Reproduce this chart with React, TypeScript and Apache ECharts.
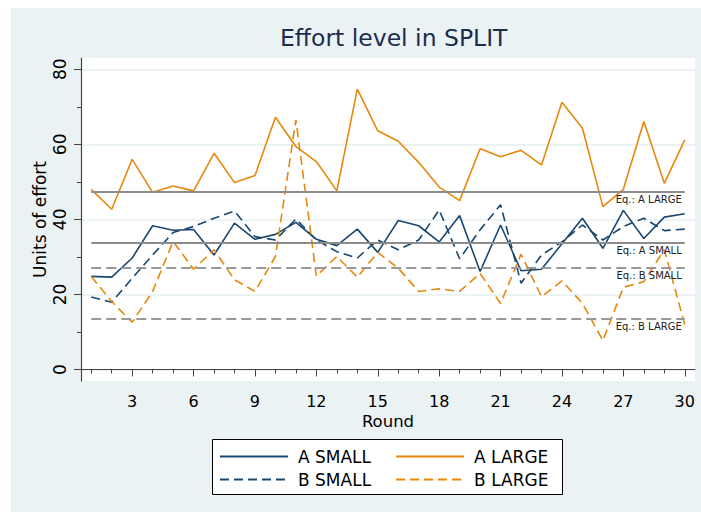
import React, { useEffect, useRef } from 'react';
import * as echarts from 'echarts';

const ROUNDS = ['1', '2', '3', '4', '5', '6', '7', '8', '9', '10', '11', '12', '13', '14', '15', '16', '17', '18', '19', '20', '21', '22', '23', '24', '25', '26', '27', '28', '29', '30'];
const A_SMALL = [24.8, 24.6, 29.7, 38.3, 37.1, 37.3, 30.5, 39.0, 34.7, 36.0, 39.2, 34.7, 33.0, 37.4, 31.2, 39.7, 38.3, 34.0, 41.0, 26.1, 38.5, 26.3, 26.7, 33.5, 40.3, 32.3, 42.4, 34.9, 40.6, 41.5];
const A_LARGE = [48.0, 42.7, 56.0, 47.2, 48.9, 47.6, 57.6, 49.8, 51.7, 67.2, 59.4, 55.4, 47.6, 74.7, 63.6, 60.8, 55.2, 48.6, 45.0, 58.8, 56.7, 58.4, 54.5, 71.2, 64.3, 43.4, 48.0, 66.1, 49.6, 61.2];
const B_SMALL = [19.3, 17.9, 24.3, 30.5, 36.5, 38.1, 40.3, 42.2, 35.4, 34.5, 40.1, 34.5, 31.4, 29.7, 34.5, 31.9, 34.5, 42.5, 29.5, 37.2, 43.9, 23.0, 30.5, 34.0, 38.5, 34.5, 38.1, 40.3, 37.0, 37.4];
const B_LARGE = [24.8, 18.1, 12.6, 20.8, 34.1, 26.7, 31.9, 23.9, 20.8, 30.1, 66.5, 24.9, 30.1, 24.6, 31.2, 27.0, 20.8, 21.5, 20.8, 25.6, 17.6, 30.7, 19.4, 23.6, 17.6, 7.7, 21.9, 23.4, 31.9, 11.9];
const EQ_NAMES = ['Eq.: A LARGE', 'Eq.: A SMALL', 'Eq.: B SMALL', 'Eq.: B LARGE'];
const EQ_VALUES = [47.4, 33.9, 27.1, 13.5];
const EQ_DASHED = [false, false, true, true];
const Y_MAJOR = [0, 20, 40, 60, 80];
const Y_MINOR = [10, 30, 50, 70];

const BLUE = '#1a476f';
const ORANGE = '#e8870e';
const FONT = 'DejaVu Sans';
const AXIS_COLOR = '#444';

export default function App() {
  const ref = useRef<HTMLDivElement>(null);
  useEffect(() => {
    if (!ref.current) return;
    const chart = echarts.init(ref.current, null, { renderer: 'svg' });
    const yMin = -3.07;
    const yMax = 83.0;
    const majorX = (i: number) => (i + 1) % 3 === 0;
    const lineSeries = (name: string, data: number[], color: string, dashed: boolean) => ({
      name,
      type: 'line',
      data,
      xAxisIndex: 0,
      yAxisIndex: 0,
      symbol: 'none',
      showSymbol: false,
      z: 3,
      lineStyle: { color, width: 1.6, type: dashed ? [9, 5] : 'solid' },
      itemStyle: { color },
    });
    const legendBase = {
      left: 219,
      padding: 0,
      itemWidth: 68,
      itemHeight: 14,
      itemGap: 24,
      z: 5,
      itemStyle: { opacity: 0 },
      textStyle: { fontFamily: FONT, fontSize: 17, color: '#000', padding: [0, 0, 0, 5] },
    };
    chart.setOption({
      animation: false,
      title: {
        text: 'Effort level in SPLIT',
        left: 280,
        top: 26,
        padding: 0,
        textStyle: { fontFamily: FONT, fontSize: 23.5, fontWeight: 'normal', color: '#1c2c4e' },
      },
      grid: {
        left: 81,
        right: 6,
        top: 58,
        bottom: 131,
        show: true,
        backgroundColor: '#ffffff',
        borderWidth: 0,
      },
      legend: [
        { ...legendBase, data: ['A SMALL', 'A LARGE'], top: 448 },
        { ...legendBase, data: ['B SMALL', 'B LARGE'], top: 471 },
      ],
      graphic: [
        {
          type: 'rect',
          z: 1,
          shape: { x: 212.5, y: 439.5, width: 350, height: 55 },
          style: { fill: '#ffffff', stroke: '#000000', lineWidth: 1 },
        },
      ],
      xAxis: [
        {
          type: 'category',
          data: ROUNDS,
          boundaryGap: true,
          position: 'bottom',
          axisLine: { show: true, lineStyle: { color: AXIS_COLOR, width: 1.2 } },
          axisTick: { show: true, interval: 0, alignWithLabel: true, length: 4, lineStyle: { color: AXIS_COLOR } },
          axisLabel: { show: false },
          splitLine: { show: false },
        },
        {
          type: 'category',
          data: ROUNDS,
          boundaryGap: true,
          position: 'bottom',
          name: 'Round',
          nameLocation: 'middle',
          nameGap: 32,
          nameMoveOverlap: false,
          nameTextStyle: { fontFamily: FONT, fontSize: 16.5, color: '#000' },
          axisLine: { show: false },
          axisTick: { show: true, interval: majorX, alignWithLabel: true, length: 7, lineStyle: { color: AXIS_COLOR } },
          axisLabel: { show: true, interval: majorX, margin: 12, fontFamily: FONT, fontSize: 16, color: '#000' },
          splitLine: { show: false },
        },
      ],
      yAxis: [
        {
          type: 'value',
          min: yMin,
          max: yMax,
          position: 'left',
          name: 'Units of effort',
          nameLocation: 'middle',
          nameGap: 33,
          nameMoveOverlap: false,
          nameTextStyle: { fontFamily: FONT, fontSize: 17, color: '#000' },
          axisLine: { show: true, lineStyle: { color: AXIS_COLOR, width: 1.2 } },
          axisTick: { show: true, customValues: Y_MAJOR, length: 7, lineStyle: { color: AXIS_COLOR } },
          axisLabel: { show: true, customValues: Y_MAJOR, rotate: 90, margin: 13, fontFamily: FONT, fontSize: 17, color: '#000' },
          splitLine: { show: true, lineStyle: { color: '#e6eff1', width: 1.5 } },
        },
        {
          type: 'value',
          min: yMin,
          max: yMax,
          position: 'left',
          axisLine: { show: false },
          axisTick: { show: true, customValues: Y_MINOR, length: 4, lineStyle: { color: AXIS_COLOR } },
          axisLabel: { show: false },
          splitLine: { show: false },
        },
      ],
      series: [
        {
          name: 'Eq',
          type: 'line',
          data: [],
          xAxisIndex: 0,
          yAxisIndex: 0,
          z: 2,
          markLine: {
            silent: true,
            symbol: 'none',
            animation: false,
            label: {
              show: true,
              position: 'insideEndBottom',
              distance: 3,
              fontFamily: FONT,
              fontSize: 10,
              color: '#222',
            },
            data: EQ_VALUES.map((v, i) => [
              {
                coord: [ROUNDS[0], v],
                lineStyle: {
                  color: EQ_DASHED[i] ? '#999999' : '#8c8c8c',
                  width: 1.8,
                  type: EQ_DASHED[i] ? [10, 5] : 'solid',
                },
                label: { formatter: EQ_NAMES[i] },
              },
              { coord: [ROUNDS[ROUNDS.length - 1], v] },
            ]),
          },
        },
        lineSeries('A SMALL', A_SMALL, BLUE, false),
        lineSeries('A LARGE', A_LARGE, ORANGE, false),
        lineSeries('B SMALL', B_SMALL, BLUE, true),
        lineSeries('B LARGE', B_LARGE, ORANGE, true),
      ],
    });
    return () => chart.dispose();
  }, []);
  return (
    <div style={{ position: 'fixed', left: 0, top: 0, width: 701, height: 512, background: '#ffffff' }}>
      <div style={{ position: 'absolute', left: 11, top: 8, width: 690, height: 504, background: '#eaf2f3' }} />
      <div ref={ref} style={{ position: 'absolute', left: 0, top: 0, width: 701, height: 512 }} />
    </div>
  );
}
